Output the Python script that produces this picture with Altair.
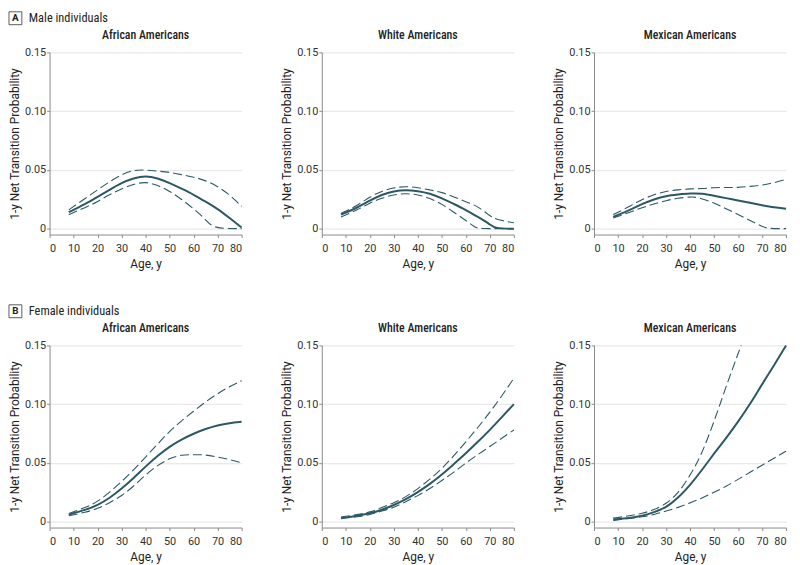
import altair as alt
import pandas as pd

# ---- data (age, 1-y net transition probability) ----
ages_std = [8, 15, 20, 25, 30, 35, 40, 45, 50, 55, 60, 65, 70, 75, 80]

# Male, African Americans
m_aa_est = [0.014, 0.021, 0.027, 0.033, 0.039, 0.043, 0.045, 0.043, 0.039, 0.034, 0.029, 0.023, 0.017, 0.009, 0.001]
m_aa_up = [0.016, 0.026, 0.033, 0.040, 0.046, 0.050, 0.050, 0.049, 0.048, 0.046, 0.044, 0.041, 0.036, 0.029, 0.019]
m_aa_lo_age = [8, 15, 20, 25, 30, 35, 40, 45, 50, 55, 60, 65, 68, 80]
m_aa_lo = [0.012, 0.018, 0.023, 0.029, 0.034, 0.038, 0.040, 0.037, 0.032, 0.025, 0.017, 0.008, 0.0, 0.0]

# Male, White Americans
m_w_est_age = [8, 15, 20, 25, 30, 35, 40, 45, 50, 55, 60, 65, 70, 72, 80]
m_w_est = [0.012, 0.018, 0.024, 0.029, 0.032, 0.033, 0.032, 0.030, 0.026, 0.021, 0.016, 0.010, 0.004, 0.0, 0.0]
m_w_up_age = [8, 15, 20, 25, 30, 35, 40, 45, 50, 55, 60, 65, 70, 72, 80]
m_w_up = [0.013, 0.020, 0.027, 0.032, 0.035, 0.036, 0.035, 0.033, 0.031, 0.027, 0.023, 0.019, 0.011, 0.008, 0.005]
m_w_lo_age = [8, 15, 20, 25, 30, 35, 40, 45, 50, 55, 60, 64, 65, 80]
m_w_lo = [0.010, 0.016, 0.022, 0.026, 0.029, 0.030, 0.029, 0.026, 0.021, 0.014, 0.007, 0.001, 0.0, 0.0]

# Male, Mexican Americans
m_m_est = [0.010, 0.016, 0.021, 0.025, 0.028, 0.029, 0.030, 0.030, 0.028, 0.026, 0.024, 0.022, 0.020, 0.018, 0.017]
m_m_up = [0.012, 0.019, 0.025, 0.029, 0.032, 0.033, 0.034, 0.034, 0.035, 0.035, 0.035, 0.036, 0.037, 0.039, 0.042]
m_m_lo_age = [8, 15, 20, 25, 30, 35, 40, 43, 50, 55, 60, 65, 70, 72, 80]
m_m_lo = [0.009, 0.014, 0.018, 0.021, 0.024, 0.026, 0.027, 0.027, 0.022, 0.017, 0.012, 0.007, 0.002, 0.0, 0.0]

# Female, African Americans
f_aa_est = [0.006, 0.010, 0.014, 0.020, 0.028, 0.037, 0.047, 0.056, 0.064, 0.070, 0.075, 0.079, 0.082, 0.084, 0.085]
f_aa_up = [0.007, 0.012, 0.017, 0.025, 0.034, 0.044, 0.055, 0.066, 0.077, 0.086, 0.094, 0.102, 0.109, 0.115, 0.120]
f_aa_lo = [0.005, 0.008, 0.011, 0.016, 0.022, 0.030, 0.040, 0.048, 0.054, 0.057, 0.057, 0.057, 0.055, 0.053, 0.050]

# Female, White Americans
f_w_est = [0.003, 0.005, 0.007, 0.010, 0.014, 0.019, 0.025, 0.032, 0.040, 0.049, 0.058, 0.068, 0.078, 0.089, 0.100]
f_w_up = [0.004, 0.006, 0.008, 0.012, 0.016, 0.021, 0.028, 0.036, 0.045, 0.056, 0.068, 0.080, 0.093, 0.107, 0.122]
f_w_lo = [0.003, 0.004, 0.006, 0.009, 0.012, 0.017, 0.022, 0.028, 0.035, 0.042, 0.050, 0.057, 0.064, 0.071, 0.078]

# Female, Mexican Americans
f_m_est = [0.002, 0.003, 0.005, 0.008, 0.012, 0.020, 0.031, 0.044, 0.058, 0.071, 0.085, 0.100, 0.117, 0.133, 0.150]
f_m_up_age = [8, 15, 20, 25, 30, 35, 40, 45, 50, 55, 60, 61.3]
f_m_up = [0.003, 0.005, 0.007, 0.010, 0.015, 0.024, 0.039, 0.058, 0.085, 0.115, 0.143, 0.150]
f_m_lo = [0.001, 0.003, 0.004, 0.006, 0.009, 0.012, 0.016, 0.020, 0.025, 0.030, 0.036, 0.042, 0.048, 0.054, 0.060]

x_ticks = [0, 10, 20, 30, 40, 50, 60, 70, 80]
y_ticks = [0, 0.05, 0.10, 0.15]

LINE = "#2c5865"
FONT = "Roboto, sans-serif"
CFONT = "Roboto Condensed, Roboto, sans-serif"
W, H = 194, 184


def frame(ages, vals, name):
    return pd.DataFrame({"age": ages, "value": vals, "series": name})


def panel(title, est, up, lo, header=None):
    df = pd.concat([frame(*est, "est"), frame(*up, "up"), frame(*lo, "lo")])
    base = alt.Chart(df)
    x = alt.X("age:Q", scale=alt.Scale(domain=[0, 80], nice=False),
              axis=alt.Axis(values=x_ticks, title="Age, y", grid=False,
                            labelPadding=5, titlePadding=5))
    y = alt.Y("value:Q", scale=alt.Scale(domain=[-0.005, 0.15], nice=False),
              axis=alt.Axis(values=y_ticks, title="1-y Net Transition Probability",
                            grid=True, labelPadding=1, titlePadding=3,
                            labelExpr="datum.value == 0 ? '0' : format(datum.value, '.2f')"))
    solid = base.transform_filter(alt.datum.series == "est").mark_line(
        color=LINE, strokeWidth=2, interpolate="basis").encode(x=x, y=y)
    dashed = base.transform_filter(alt.datum.series != "est").mark_line(
        color=LINE, strokeWidth=1.1, strokeDash=[9, 4], interpolate="basis"
    ).encode(x=x, y=y, detail="series:N")
    hd_df = pd.DataFrame({"title": [title],
                          "letter": [header[0] if header else ""],
                          "text": [header[1] if header else ""]})
    hd = alt.Chart(hd_df)
    ttl = hd.mark_text(font=CFONT, fontSize=12, fontWeight=500, color="#222",
                       baseline="middle").encode(
        x=alt.value(W / 2), y=alt.value(-18), text="title:N")
    layers = [dashed, solid, ttl]
    if header is not None:
        box = hd.mark_rect(fill="white", stroke="#333", strokeWidth=0.8).encode(
            x=alt.value(-41), x2=alt.value(-28), y=alt.value(-41), y2=alt.value(-28))
        let = hd.mark_text(font=FONT, fontSize=10, fontWeight="bold", color="#222",
                           baseline="middle").encode(
            x=alt.value(-34.5), y=alt.value(-34.5), text="letter:N")
        txt = hd.mark_text(font=CFONT, fontSize=12.5, align="left", color="#222",
                           baseline="middle").encode(
            x=alt.value(-21), y=alt.value(-34.5), text="text:N")
        layers += [box, let, txt]
    return alt.layer(*layers).properties(width=W, height=H)


panels = [
    panel("African Americans", (ages_std, m_aa_est), (ages_std, m_aa_up), (m_aa_lo_age, m_aa_lo),
          header=("A", "Male individuals")),
    panel("White Americans", (m_w_est_age, m_w_est), (m_w_up_age, m_w_up), (m_w_lo_age, m_w_lo)),
    panel("Mexican Americans", (ages_std, m_m_est), (ages_std, m_m_up), (m_m_lo_age, m_m_lo)),
    panel("African Americans", (ages_std, f_aa_est), (ages_std, f_aa_up), (ages_std, f_aa_lo),
          header=("B", "Female individuals")),
    panel("White Americans", (ages_std, f_w_est), (ages_std, f_w_up), (ages_std, f_w_lo)),
    panel("Mexican Americans", (ages_std, f_m_est), (f_m_up_age, f_m_up), (ages_std, f_m_lo)),
]

chart = alt.concat(*panels, columns=3, spacing={"row": 112, "column": 81}, bounds="flush").properties(
    padding={"left": 0, "top": 0, "right": 2, "bottom": 2}
).configure_view(stroke=None).configure_axis(
    labelFont=FONT, titleFont=FONT, labelFontSize=11, titleFontSize=12,
    titleFontWeight="normal", labelColor="#333", titleColor="#222",
    domainColor="#8a8a8a", tickColor="#8a8a8a", tickSize=3, domainWidth=1,
    gridColor="#e3e3e3", gridWidth=1,
)

chart.save("out.html", embed_options={"renderer": "svg", "actions": False})
